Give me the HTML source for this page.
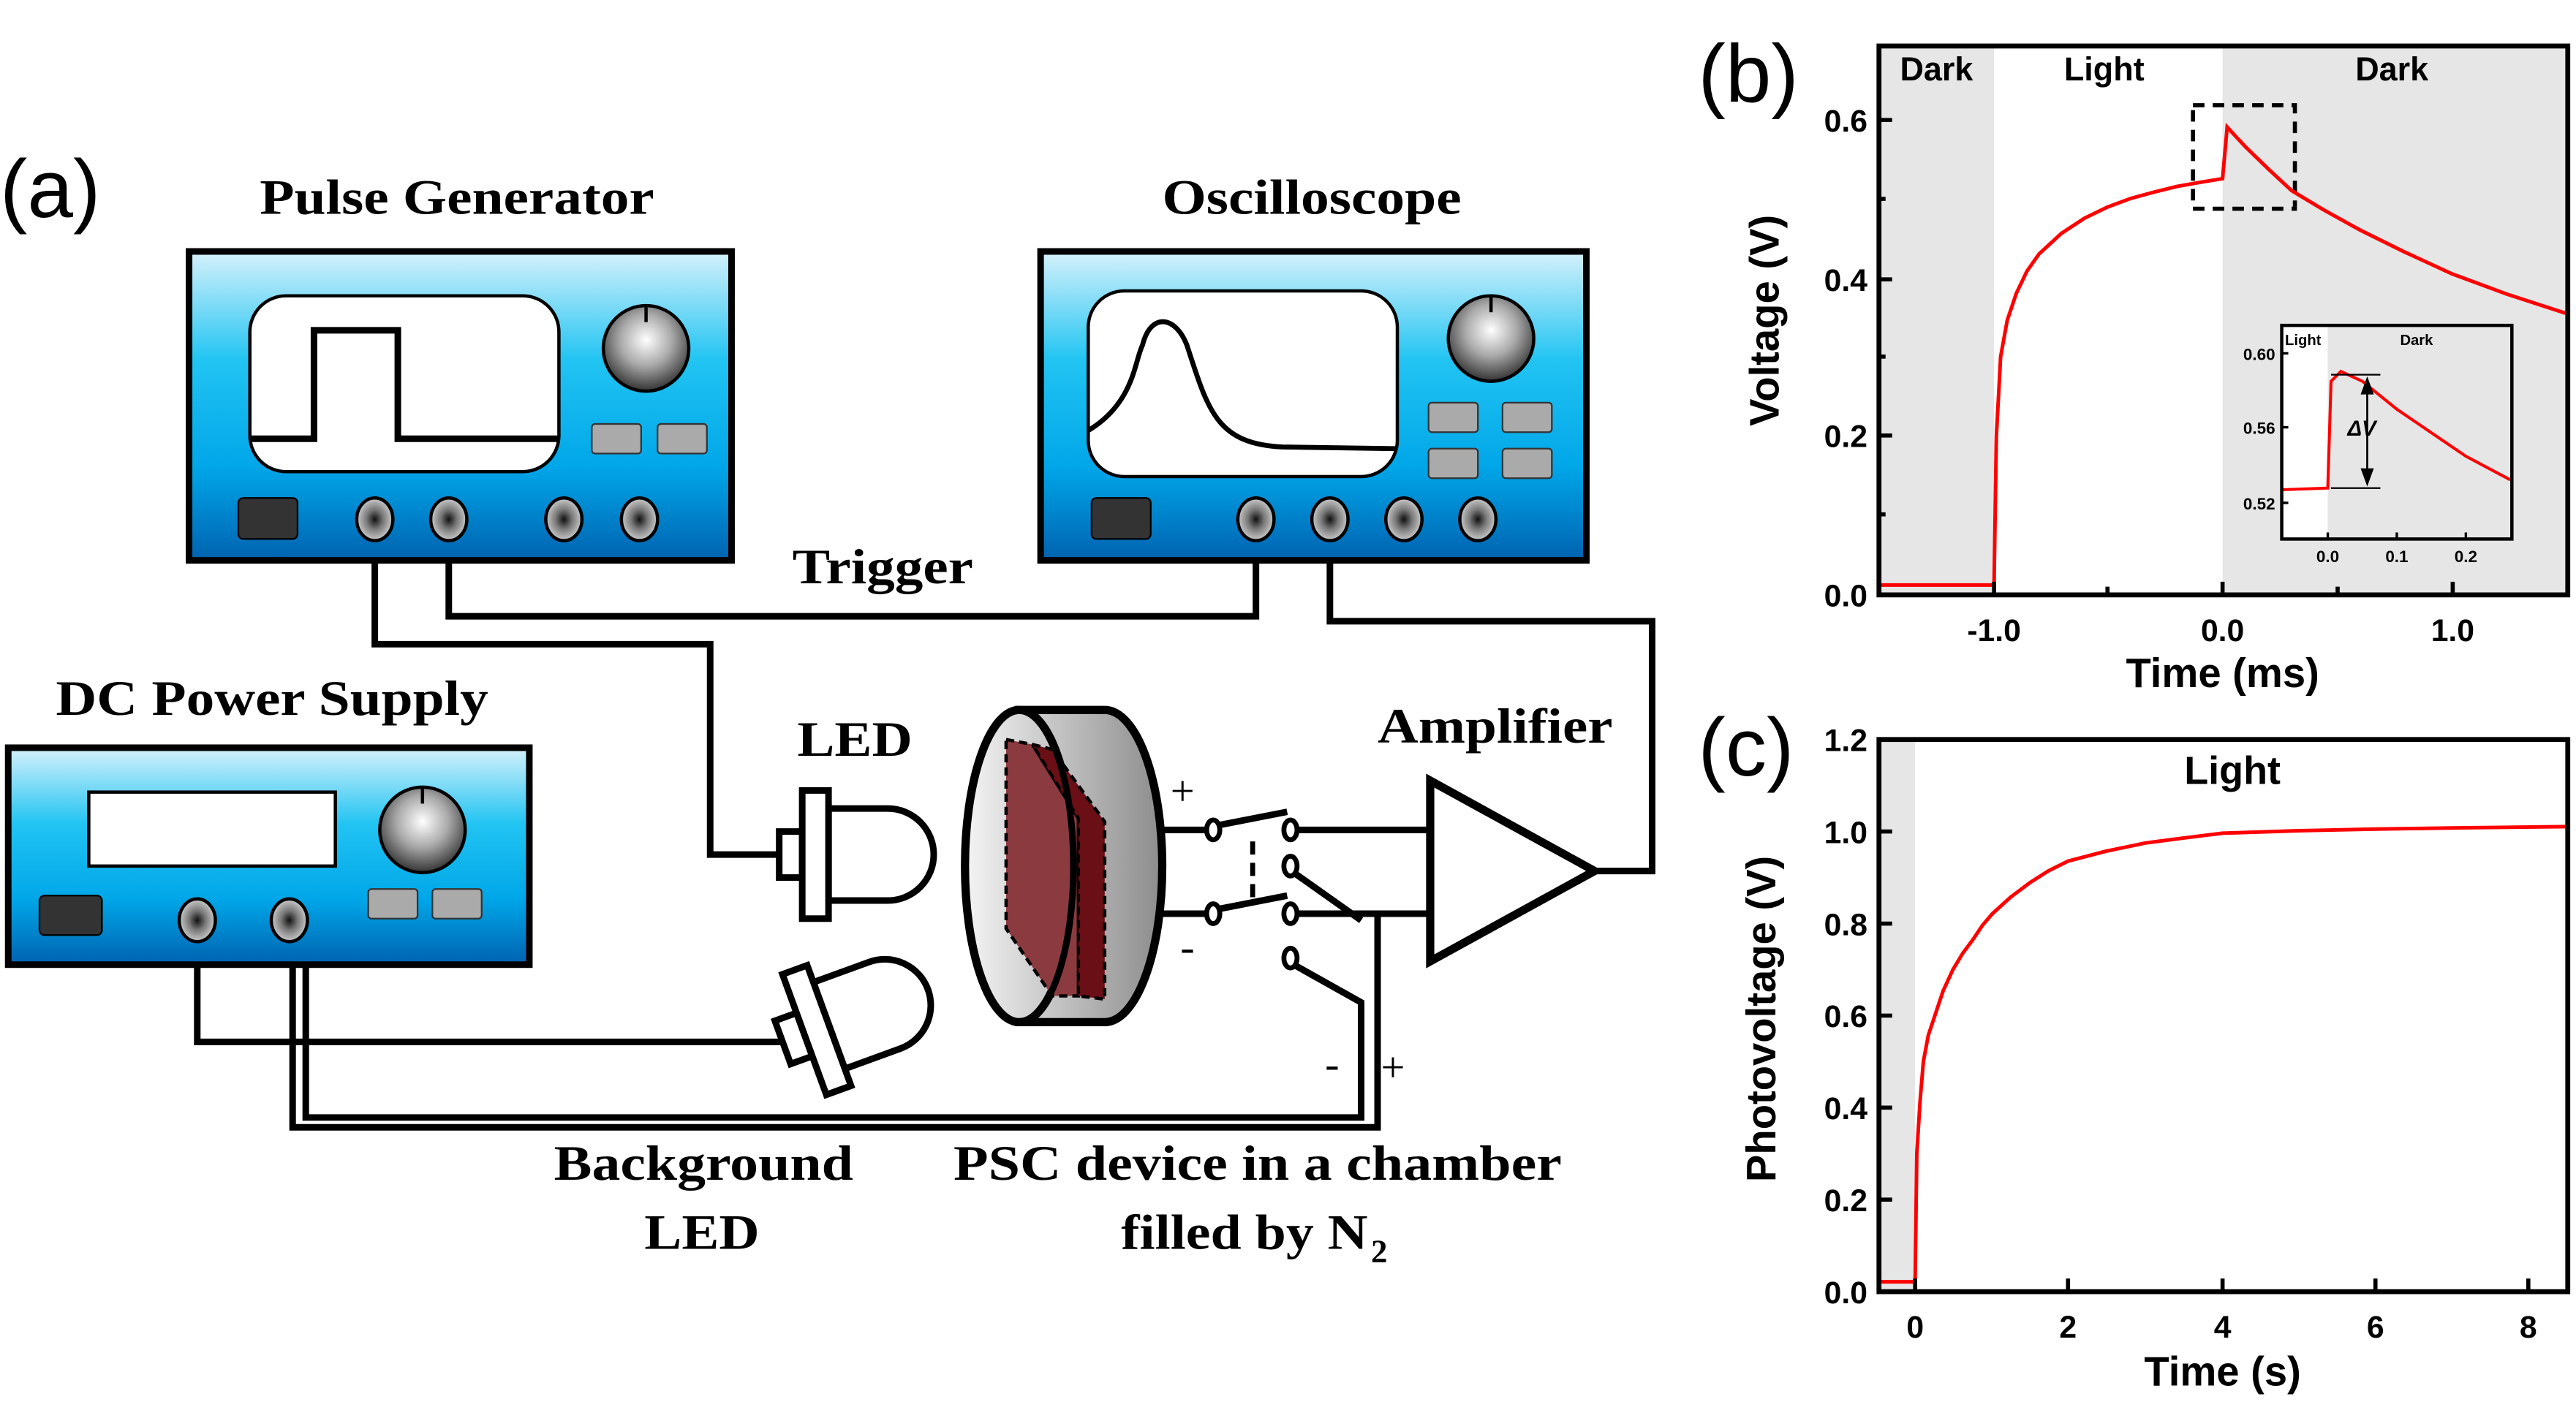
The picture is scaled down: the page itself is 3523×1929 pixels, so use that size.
<!DOCTYPE html>
<html><head><meta charset="utf-8"><style>html,body{margin:0;padding:0;background:#fff}svg{display:block}</style></head><body>
<svg xmlns="http://www.w3.org/2000/svg" width="3523" height="1929" viewBox="0 0 1567 858">
<defs>
<linearGradient id="blue" x1="0" y1="0" x2="0" y2="1">
<stop offset="0" stop-color="#d6f1fb"/><stop offset="0.35" stop-color="#22c4f2"/><stop offset="0.7" stop-color="#00a6e8"/><stop offset="1" stop-color="#0062b0"/></linearGradient>
<radialGradient id="knob" cx="0.5" cy="0.4" r="0.6"><stop offset="0" stop-color="#fff"/><stop offset="0.5" stop-color="#aaa"/><stop offset="1" stop-color="#333"/></radialGradient>
<radialGradient id="conn" cx="0.5" cy="0.5" r="0.5"><stop offset="0" stop-color="#111"/><stop offset="0.45" stop-color="#777"/><stop offset="1" stop-color="#ccc"/></radialGradient>
<linearGradient id="cylF" x1="0" x2="1"><stop offset="0" stop-color="#f4f4f4"/><stop offset="1" stop-color="#bcbcbc"/></linearGradient>
<linearGradient id="cylB" x1="0" x2="1"><stop offset="0" stop-color="#d8d8d8"/><stop offset="1" stop-color="#8c8c8c"/></linearGradient>
</defs>
<g font-family="Liberation Serif, serif" font-weight="bold" fill="#000">
<text x="0" y="132" font-family="Liberation Sans, sans-serif" font-weight="normal" font-size="50">(a)</text>
<text x="158" y="130" font-size="30" textLength="240" lengthAdjust="spacingAndGlyphs">Pulse Generator</text>
<text x="707" y="130" font-size="30" textLength="182" lengthAdjust="spacingAndGlyphs">Oscilloscope</text>
<text x="482" y="355" font-size="30" textLength="110" lengthAdjust="spacingAndGlyphs">Trigger</text>
<text x="34" y="435" font-size="30" textLength="263" lengthAdjust="spacingAndGlyphs">DC Power Supply</text>
<text x="485" y="460" font-size="30" textLength="70" lengthAdjust="spacingAndGlyphs">LED</text>
<text x="838" y="452" font-size="30" textLength="143" lengthAdjust="spacingAndGlyphs">Amplifier</text>
<text x="337" y="718" font-size="30" textLength="182" lengthAdjust="spacingAndGlyphs">Background</text>
<text x="392" y="760" font-size="30" textLength="70" lengthAdjust="spacingAndGlyphs">LED</text>
<text x="580" y="718" font-size="30" textLength="370" lengthAdjust="spacingAndGlyphs">PSC device in a chamber</text>
<text x="682" y="760" font-size="30" textLength="150" lengthAdjust="spacingAndGlyphs">filled by N</text>
<text x="834" y="768" font-size="20">2</text>
<text x="712" y="490" font-size="26" font-weight="normal">+</text>
<text x="718" y="585" font-size="26" font-weight="normal">-</text>
<text x="806" y="656" font-size="26" font-weight="normal">-</text>
<text x="840" y="658" font-size="26" font-weight="normal">+</text>
</g>
<g fill="none" stroke="#000" stroke-width="4">
<polyline points="273,316 273,375 764,375 764,316"/>
<polyline points="228,316 228,392 432,392 432,520 476,520"/>
<polyline points="809,316 809,378 1005,378 1005,530 970,530"/>
<polyline points="120,560 120,634 480,634"/>
<polyline points="186,560 186,680 828,680 828,610 787,587"/>
<polyline points="178,560 178,686 838,686 838,556"/>
<line x1="705" y1="505" x2="734" y2="505"/>
<line x1="742" y1="502" x2="783" y2="494"/>
<line x1="789" y1="505" x2="870" y2="505"/>
<line x1="705" y1="556" x2="734" y2="556"/>
<line x1="742" y1="553" x2="783" y2="545"/>
<line x1="789" y1="556" x2="870" y2="556"/>
<line x1="787" y1="531" x2="828" y2="560"/>
<line x1="762" y1="512" x2="762" y2="550" stroke-dasharray="8,5" stroke-width="3"/>
</g>
<g fill="#fff" stroke="#000" stroke-width="3">
<ellipse cx="738" cy="505" rx="4" ry="6"/><ellipse cx="785" cy="505" rx="4" ry="6"/>
<ellipse cx="738" cy="556" rx="4" ry="6"/><ellipse cx="785" cy="556" rx="4" ry="6"/>
<ellipse cx="785" cy="527" rx="4" ry="6"/><ellipse cx="785" cy="583" rx="4" ry="6"/>
</g>
<polygon points="870,475 870,585 970,530" fill="#fff" stroke="#000" stroke-width="5"/>
<rect x="115" y="153" width="330" height="188" fill="url(#blue)" stroke="#000" stroke-width="4"/>
<rect x="152" y="180" width="188" height="107" rx="22" fill="#fff" stroke="#000" stroke-width="2"/>
<polyline points="152,267 191,267 191,201 242,201 242,267 340,267" fill="none" stroke="#000" stroke-width="4"/>
<circle cx="393" cy="212" r="26" fill="url(#knob)" stroke="#000" stroke-width="2"/>
<line x1="393" y1="187" x2="393" y2="196" stroke="#000" stroke-width="2"/>
<rect x="360" y="258" width="30" height="18" rx="2" fill="#aaa" stroke="#333"/>
<rect x="400" y="258" width="30" height="18" rx="2" fill="#aaa" stroke="#333"/>
<rect x="145" y="303" width="36" height="25" rx="3" fill="#333" stroke="#000"/>
<g fill="url(#conn)" stroke="#000" stroke-width="2">
<ellipse cx="228" cy="316" rx="11" ry="13"/><ellipse cx="273" cy="316" rx="11" ry="13"/>
<ellipse cx="343" cy="316" rx="11" ry="13"/><ellipse cx="389" cy="316" rx="11" ry="13"/>
</g>
<rect x="633" y="153" width="332" height="188" fill="url(#blue)" stroke="#000" stroke-width="4"/>
<rect x="662" y="177" width="188" height="113" rx="22" fill="#fff" stroke="#000" stroke-width="2"/>
<path d="M662,262 C690,245 690,220 695,210 C700,190 715,192 722,210 C735,250 740,270 780,272 L850,273" fill="none" stroke="#000" stroke-width="3"/>
<circle cx="907" cy="206" r="26" fill="url(#knob)" stroke="#000" stroke-width="2"/>
<line x1="907" y1="181" x2="907" y2="190" stroke="#000" stroke-width="2"/>
<rect x="869" y="245" width="30" height="18" rx="2" fill="#aaa" stroke="#333"/>
<rect x="914" y="245" width="30" height="18" rx="2" fill="#aaa" stroke="#333"/>
<rect x="869" y="273" width="30" height="18" rx="2" fill="#aaa" stroke="#333"/>
<rect x="914" y="273" width="30" height="18" rx="2" fill="#aaa" stroke="#333"/>
<rect x="664" y="303" width="36" height="25" rx="3" fill="#333" stroke="#000"/>
<g fill="url(#conn)" stroke="#000" stroke-width="2">
<ellipse cx="764" cy="316" rx="11" ry="13"/><ellipse cx="809" cy="316" rx="11" ry="13"/>
<ellipse cx="854" cy="316" rx="11" ry="13"/><ellipse cx="899" cy="316" rx="11" ry="13"/>
</g>
<rect x="5" y="455" width="317" height="132" fill="url(#blue)" stroke="#000" stroke-width="4"/>
<rect x="54" y="482" width="150" height="45" fill="#fff" stroke="#000" stroke-width="2"/>
<circle cx="257" cy="505" r="26" fill="url(#knob)" stroke="#000" stroke-width="2"/>
<line x1="257" y1="480" x2="257" y2="489" stroke="#000" stroke-width="2"/>
<rect x="224" y="541" width="30" height="18" rx="2" fill="#aaa" stroke="#333"/>
<rect x="263" y="541" width="30" height="18" rx="2" fill="#aaa" stroke="#333"/>
<rect x="24" y="545" width="38" height="24" rx="3" fill="#333" stroke="#000"/>
<g fill="url(#conn)" stroke="#000" stroke-width="2">
<ellipse cx="120" cy="560" rx="11" ry="13"/><ellipse cx="176" cy="560" rx="11" ry="13"/>
</g>
<g fill="#fff" stroke="#000" stroke-width="4">
<path d="M504,492 L540,492 A28,28 0 0 1 540,548 L504,548 Z"/>
<rect x="474" y="506" width="14" height="28"/>
<rect x="488" y="481" width="16" height="78"/>
</g>
<g fill="#fff" stroke="#000" stroke-width="4" transform="rotate(-20 510 622)">
<path d="M504,594 L540,594 A28,28 0 0 1 540,650 L504,650 Z"/>
<rect x="474" y="608" width="14" height="28"/>
<rect x="488" y="583" width="16" height="78"/>
</g>
<path d="M620,432 L672,432 A35,95 0 0 1 672,622 L620,622 Z" fill="url(#cylB)" stroke="#000" stroke-width="5"/>
<ellipse cx="620" cy="527" rx="33" ry="95" fill="url(#cylF)" stroke="#000" stroke-width="5"/>
<polygon points="612,450 628,453 656,498 656,606 640,606 612,565" fill="#8b3b40" stroke="#000" stroke-width="2" stroke-dasharray="5,3"/>
<polygon points="628,453 640,456 672,500 672,608 656,606 656,498" fill="#6a0f15" stroke="#000" stroke-width="2" stroke-dasharray="5,3"/>
<path d="M620,432 A33,95 0 0 1 620,622" fill="none" stroke="#000" stroke-width="4"/>
<g font-family="Liberation Sans, sans-serif" font-weight="bold">
<text x="1033" y="62" font-size="50" font-weight="normal">(b)</text>
<rect x="1143" y="28" width="70" height="334" fill="#e6e6e6"/>
<rect x="1352" y="28" width="210" height="334" fill="#e6e6e6"/>
<text x="1178" y="49" font-size="20" text-anchor="middle">Dark</text>
<text x="1280" y="49" font-size="20" text-anchor="middle">Light</text>
<text x="1455" y="49" font-size="20" text-anchor="middle">Dark</text>
<rect x="1334" y="64" width="62" height="63" fill="none" stroke="#000" stroke-width="2.5" stroke-dasharray="7,5"/>
<polyline fill="none" stroke="#f00" stroke-width="2.2" points="1143,356 1213,356 1214.4,265.5 1217,217 1221,195 1226.5,178.6 1233,165 1240.4,154.5 1254,142 1268,132.8 1282,126 1296,120.8 1310,117 1324,113.5 1338,111 1352,108.7 1354.8,77.3 1360,83 1366,89.4 1380,103 1394,116 1414,128 1435.7,140 1462,153 1491.5,166.6 1525,179 1561,190.7"/>
<rect x="1388" y="198" width="140" height="130" fill="#fff"/>
<rect x="1416" y="198" width="112" height="130" fill="#e6e6e6"/>
<polyline fill="none" stroke="#f00" stroke-width="1.8" points="1388,298 1416,297 1418,232 1424,226 1437,232 1458,249 1480,264 1500,277.6 1527,292"/>
<line x1="1418" y1="228" x2="1448" y2="228" stroke="#000"/>
<line x1="1418" y1="297" x2="1448" y2="297" stroke="#000"/>
<line x1="1440" y1="232" x2="1440" y2="293" stroke="#000" stroke-width="1.2"/>
<polygon points="1440,229 1436,240 1444,240"/><polygon points="1440,296 1436,285 1444,285"/>
<text x="1428" y="265" font-size="13" font-style="italic">ΔV</text>
<rect x="1388" y="198" width="140" height="130" fill="none" stroke="#000" stroke-width="2"/>
<text x="1390" y="210" font-size="9">Light</text><text x="1460" y="210" font-size="9">Dark</text>
<g font-size="10" text-anchor="end"><text x="1384" y="219">0.60</text><text x="1384" y="264">0.56</text><text x="1384" y="310">0.52</text></g>
<g font-size="10" text-anchor="middle"><text x="1416" y="342">0.0</text><text x="1458" y="342">0.1</text><text x="1500" y="342">0.2</text></g>
<g stroke="#000" stroke-width="1.5"><line x1="1388" y1="215" x2="1392" y2="215"/><line x1="1388" y1="260" x2="1392" y2="260"/><line x1="1388" y1="306" x2="1392" y2="306"/><line x1="1416" y1="328" x2="1416" y2="324"/><line x1="1458" y1="328" x2="1458" y2="324"/><line x1="1500" y1="328" x2="1500" y2="324"/></g>
<rect x="1143" y="28" width="419" height="334" fill="none" stroke="#000" stroke-width="3"/>
<g stroke="#000" stroke-width="2.5"><line x1="1143" y1="73" x2="1151" y2="73"/><line x1="1143" y1="170" x2="1151" y2="170"/><line x1="1143" y1="265" x2="1151" y2="265"/><line x1="1143" y1="121" x2="1147" y2="121"/><line x1="1143" y1="217" x2="1147" y2="217"/><line x1="1143" y1="313" x2="1147" y2="313"/>
<line x1="1213" y1="362" x2="1213" y2="354"/><line x1="1352" y1="362" x2="1352" y2="354"/><line x1="1492" y1="362" x2="1492" y2="354"/><line x1="1282" y1="362" x2="1282" y2="357"/><line x1="1422" y1="362" x2="1422" y2="357"/></g>
<g font-size="19" text-anchor="end"><text x="1136" y="80">0.6</text><text x="1136" y="177">0.4</text><text x="1136" y="272">0.2</text><text x="1136" y="369">0.0</text></g>
<g font-size="19" text-anchor="middle"><text x="1213" y="390">-1.0</text><text x="1352" y="390">0.0</text><text x="1492" y="390">1.0</text></g>
<text x="1352" y="418" font-size="25" text-anchor="middle">Time (ms)</text>
<text transform="translate(1082,195) rotate(-90)" font-size="25" text-anchor="middle">Voltage (V)</text>
<text x="1033" y="472" font-size="50" font-weight="normal">(c)</text>
<rect x="1143" y="450" width="22" height="336" fill="#e6e6e6"/>
<text x="1358" y="477" font-size="24" text-anchor="middle">Light</text>
<polyline fill="none" stroke="#f00" stroke-width="2.2" points="1143,780 1165,780 1166,702 1168,670 1170,646 1173,630 1177,618 1182,603 1188,590 1194,580 1200,572 1206,563 1212,556 1223,546 1235,537 1246,530 1258,524 1281,518 1305,513 1328,510 1352,507 1398,505.5 1445,504.5 1500,503.7 1562,503"/>
<rect x="1143" y="450" width="419" height="336" fill="none" stroke="#000" stroke-width="3"/>
<g stroke="#000" stroke-width="2.5"><line x1="1143" y1="450" x2="1151" y2="450"/><line x1="1143" y1="506" x2="1151" y2="506"/><line x1="1143" y1="562" x2="1151" y2="562"/><line x1="1143" y1="618" x2="1151" y2="618"/><line x1="1143" y1="674" x2="1151" y2="674"/><line x1="1143" y1="730" x2="1151" y2="730"/>
<line x1="1165" y1="786" x2="1165" y2="778"/><line x1="1258" y1="786" x2="1258" y2="778"/><line x1="1352" y1="786" x2="1352" y2="778"/><line x1="1445" y1="786" x2="1445" y2="778"/><line x1="1538" y1="786" x2="1538" y2="778"/></g>
<g font-size="19" text-anchor="end"><text x="1136" y="457">1.2</text><text x="1136" y="513">1.0</text><text x="1136" y="569">0.8</text><text x="1136" y="625">0.6</text><text x="1136" y="681">0.4</text><text x="1136" y="737">0.2</text><text x="1136" y="793">0.0</text></g>
<g font-size="19" text-anchor="middle"><text x="1165" y="814">0</text><text x="1258" y="814">2</text><text x="1352" y="814">4</text><text x="1445" y="814">6</text><text x="1538" y="814">8</text></g>
<text x="1352" y="843" font-size="25" text-anchor="middle">Time (s)</text>
<text transform="translate(1080,620) rotate(-90)" font-size="25" text-anchor="middle">Photovoltage (V)</text>
</g>
</svg>
</body></html>
